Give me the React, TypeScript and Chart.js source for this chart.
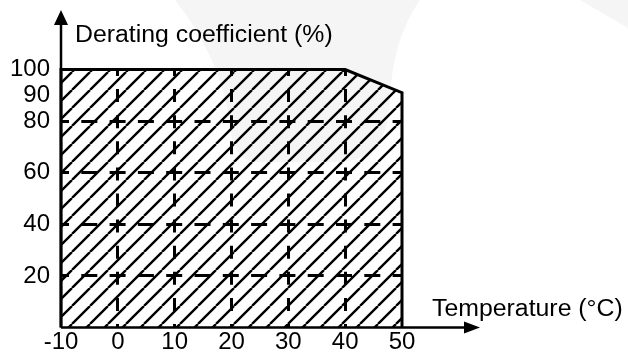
import React, { useEffect, useRef } from "react";
import { Chart, registerables } from "chart.js";

Chart.register(...registerables);

// ---- data ----
const temperatures = [-10, -10, 40, 50, 50];
const coefficients = [0, 100, 100, 91, 0];
const xTicks = [-10, 0, 10, 20, 30, 40, 50];
const yTicks = [20, 40, 60, 80, 90, 100];
const xGridValues = [0, 10, 20, 30, 40];
const yGridValues = [20, 40, 60, 80];
const yTitle = "Derating coefficient (%)";
const xTitle = "Temperature (°C)";

const FONT = "'Liberation Sans', Arial, Helvetica, sans-serif";

function makeHatch(ctx: CanvasRenderingContext2D) {
  const w = 18;
  const h = 18;
  const c = document.createElement("canvas");
  c.width = w;
  c.height = h;
  const g = c.getContext("2d")!;
  g.strokeStyle = "#000";
  g.lineWidth = 2.4;
  g.beginPath();
  for (let k = -1; k <= 1; k++) {
    g.moveTo(k * w, h);
    g.lineTo(k * w + w, 0);
  }
  g.stroke();
  return ctx.createPattern(c, "repeat")!;
}

const backgroundPlugin = {
  id: "bgWatermark",
  beforeDraw(chart: any) {
    const ctx = chart.ctx as CanvasRenderingContext2D;
    ctx.save();
    ctx.fillStyle = "#ffffff";
    ctx.fillRect(0, 0, chart.width, chart.height);
    ctx.fillStyle = "#f5f5f5";
    ctx.beginPath();
    ctx.moveTo(175, 0);
    ctx.lineTo(420, 0);
    ctx.quadraticCurveTo(392, 40, 390, 100);
    ctx.quadraticCurveTo(388, 160, 340, 162);
    ctx.lineTo(255, 162);
    ctx.quadraticCurveTo(230, 160, 228, 110);
    ctx.quadraticCurveTo(215, 50, 175, 0);
    ctx.closePath();
    ctx.fill();
    ctx.beginPath();
    ctx.moveTo(580, 0);
    ctx.lineTo(628, 0);
    ctx.lineTo(628, 28);
    ctx.closePath();
    ctx.fill();
    ctx.restore();
  },
};

const axesPlugin = {
  id: "axesArrows",
  afterDatasetsDraw(chart: any) {
    const ctx = chart.ctx as CanvasRenderingContext2D;
    const xs = chart.scales.x;
    const ys = chart.scales.y;
    const x0 = xs.getPixelForValue(-10);
    const y0 = ys.getPixelForValue(0);
    const area = chart.chartArea;
    const yTip = area.top - 59.5;
    const xTip = area.right + 78;
    ctx.save();
    ctx.strokeStyle = "#000";
    ctx.fillStyle = "#000";
    ctx.lineWidth = 2.5;
    ctx.beginPath();
    ctx.moveTo(x0, y0);
    ctx.lineTo(x0, yTip + 12);
    ctx.moveTo(x0, y0);
    ctx.lineTo(xTip - 12, y0);
    ctx.stroke();
    // arrowheads
    ctx.beginPath();
    ctx.moveTo(x0, yTip);
    ctx.lineTo(x0 - 7, yTip + 15);
    ctx.lineTo(x0 + 7, yTip + 15);
    ctx.closePath();
    ctx.fill();
    ctx.beginPath();
    ctx.moveTo(xTip, y0);
    ctx.lineTo(xTip - 16, y0 - 6);
    ctx.lineTo(xTip - 16, y0 + 6);
    ctx.closePath();
    ctx.fill();
    // titles
    ctx.font = `23px ${FONT}`;
    ctx.textBaseline = "alphabetic";
    ctx.textAlign = "left";
    ctx.save();
    ctx.translate(area.left + 14, area.top - 28);
    ctx.scale(1.08, 1);
    ctx.fillText(yTitle, 0, 0);
    ctx.restore();
    ctx.save();
    ctx.translate(area.right + 30, area.bottom - 12);
    ctx.scale(1.08, 1);
    ctx.fillText(xTitle, 0, 0);
    ctx.restore();
    ctx.restore();
  },
};

export default function App() {
  const canvasRef = useRef<HTMLCanvasElement | null>(null);

  useEffect(() => {
    const canvas = canvasRef.current!;
    const ctx = canvas.getContext("2d")!;
    const hatch = makeHatch(ctx);
    const chart = new Chart(ctx, {
      type: "line",
      data: {
        datasets: [
          {
            data: temperatures.map((t, i) => ({ x: t, y: coefficients[i] })),
            borderColor: "#000",
            borderWidth: 3,
            backgroundColor: hatch,
            fill: "origin",
            pointRadius: 0,
            tension: 0,
            clip: false as any,
          },
        ],
      },
      options: {
        responsive: false,
        animation: false,
        devicePixelRatio: 1,
        layout: { padding: { left: 0, top: 69.5, right: 226, bottom: 0 } },
        plugins: {
          legend: { display: false },
          tooltip: { enabled: false },
          title: { display: false },
        },
        scales: {
          x: {
            type: "linear",
            min: -10,
            max: 50,
            afterBuildTicks: (scale: any) => {
              scale.ticks = xTicks.map((v) => ({ value: v }));
            },
            afterFit: (scale: any) => {
              scale.height = 22;
            },
            ticks: {
              autoSkip: false,
              maxRotation: 0,
              padding: 0,
              color: "#000",
              font: { family: FONT, size: 24 },
            },
            grid: {
              drawTicks: false,
              lineWidth: 3,
              color: (c: any) =>
                c.tick && xGridValues.includes(c.tick.value) ? "#000" : "rgba(0,0,0,0)",
            },
            border: { display: false, dash: [13, 13.1], dashOffset: 6.5 },
          },
          y: {
            type: "linear",
            min: 0,
            max: 100,
            afterBuildTicks: (scale: any) => {
              scale.ticks = yTicks.map((v) => ({ value: v }));
            },
            afterFit: (scale: any) => {
              scale.width = 61;
            },
            ticks: {
              autoSkip: false,
              padding: 11,
              color: "#000",
              font: { family: FONT, size: 24 },
            },
            grid: {
              drawTicks: false,
              lineWidth: 3,
              color: (c: any) =>
                c.tick && yGridValues.includes(c.tick.value) ? "#000" : "rgba(0,0,0,0)",
            },
            border: { display: false, dash: [16, 12.3], dashOffset: 8 },
          },
        },
      },
      plugins: [backgroundPlugin, axesPlugin],
    });
    return () => chart.destroy();
  }, []);

  return (
    <div style={{ position: "absolute", left: 0, top: 0, width: 628, height: 353 }}>
      <canvas ref={canvasRef} width={628} height={353} style={{ width: 628, height: 353, display: "block" }} />
    </div>
  );
}
